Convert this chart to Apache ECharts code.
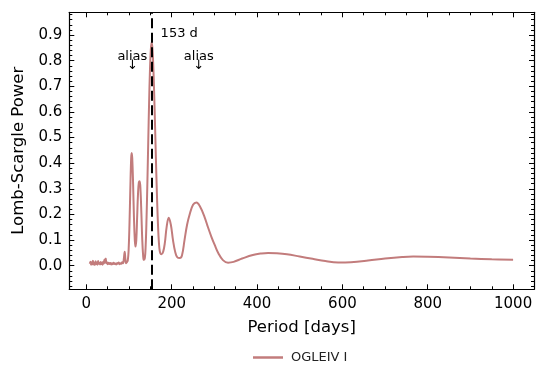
<!DOCTYPE html>
<html>
<head>
<meta charset="utf-8">
<script src="https://cdn.jsdelivr.net/npm/echarts@6/dist/echarts.min.js"></script>
<style>html,body{margin:0;padding:0;background:#fff;}#c{width:545px;height:381px;}</style>
</head>
<body>
<div id="c"></div>
<script>
// ---- data ----
const periods = [8, 9.5, 11, 12.5, 14, 15.5, 17, 18.5, 20, 21.5, 23, 24.5, 26, 27.5, 29, 30.5, 32, 33.5, 35, 36.5, 38, 39.5, 41, 42.5, 44, 45.5, 47, 48.5, 50, 52, 54, 56, 58, 60, 62, 64, 66, 68, 70, 72, 74, 76, 78, 80, 82, 84, 86, 88, 89.8, 91.5, 93, 95, 97,
  99, 101, 103, 105, 106.2, 107.5, 109.5, 111.5, 113.5, 115, 117, 119, 121, 123, 125, 127, 129, 131, 133, 134.5, 137, 139, 141, 143, 145, 147, 149, 151, 153, 155, 157, 159, 161, 163, 165, 167, 169, 171, 173, 176, 180, 184, 188, 193, 198, 203, 208, 213, 219, 224, 230, 236, 242, 250, 258, 266, 277, 285, 293, 301, 309, 320, 332, 345, 365, 390, 410, 426, 445, 470, 500, 530, 560, 590, 620, 660, 700, 740, 766, 800, 850, 900, 950, 1000];
const power = [0.008, 0.016, 0.004, 0.014, 0.006, 0.019, 0.005, 0.012, 0.003, 0.017, 0.007, 0.013, 0.004, 0.018, 0.008, 0.011, 0.005, 0.015, 0.007, 0.012, 0.004, 0.016, 0.009, 0.024, 0.012, 0.028, 0.010, 0.014, 0.006, 0.012, 0.007, 0.011, 0.005, 0.010, 0.006, 0.012, 0.007, 0.009, 0.005, 0.011, 0.008, 0.013, 0.006, 0.010, 0.008, 0.014, 0.010, 0.030, 0.055, 0.025, 0.010, 0.014, 0.020,
  0.06, 0.16, 0.30, 0.42, 0.44, 0.42, 0.32, 0.19, 0.10, 0.075, 0.10, 0.19, 0.28, 0.325, 0.33, 0.29, 0.20, 0.10, 0.04, 0.023, 0.03, 0.08, 0.185, 0.326, 0.484, 0.636, 0.762, 0.842, 0.872, 0.844, 0.771, 0.666, 0.544, 0.416, 0.298, 0.195, 0.118, 0.07, 0.05, 0.045, 0.055, 0.09, 0.15, 0.187, 0.16, 0.10, 0.055, 0.033, 0.03, 0.04, 0.10, 0.16, 0.20, 0.238, 0.247, 0.232, 0.19, 0.15, 0.113, 0.08, 0.05, 0.022, 0.012, 0.015, 0.028, 0.042, 0.048, 0.05, 0.049, 0.045, 0.036, 0.027, 0.018, 0.013, 0.014, 0.02, 0.028, 0.034, 0.036, 0.035, 0.032, 0.028, 0.025, 0.023];
const seriesName = 'OGLEIV I';
const bestPeriod = 153;
const bestLabel = '153 d';
const aliasPeriods = [107.8, 263.4];
const aliasLabel = 'alias';
const xTicks = [0, 200, 400, 600, 800, 1000];
const xMinor = [50, 100, 150, 250, 300, 350, 450, 500, 550, 650, 700, 750, 850, 900, 950];
const yTicks = [0, 0.1, 0.2, 0.3, 0.4, 0.5, 0.6, 0.7, 0.8, 0.9];
const yMinor = [-0.08, -0.06, -0.04, -0.02, 0.02, 0.04, 0.06, 0.08, 0.12, 0.14, 0.16, 0.18, 0.22, 0.24, 0.26, 0.28, 0.32, 0.34, 0.36, 0.38, 0.42, 0.44, 0.46, 0.48, 0.52, 0.54, 0.56, 0.58, 0.62, 0.64, 0.66, 0.68, 0.72, 0.74, 0.76, 0.78, 0.82, 0.84, 0.86, 0.88, 0.92, 0.94, 0.96, 0.98];

// ---- chart ----
const XMIN = -40, XMAX = 1049, YMIN = -0.092, YMAX = 0.989;
const FONT = 'DejaVu Sans';
const lineColor = '#c27c7c';
const chart = echarts.init(document.getElementById('c'), null, {renderer: 'canvas'});

function xAx(pos, major, showLine, label) {
  return {
    type: 'value', min: XMIN, max: XMAX, position: pos,
    axisLine: {show: showLine, onZero: false, lineStyle: {color: '#000', width: 1.2}},
    axisTick: {show: true, inside: true, length: major ? 5 : 3, lineStyle: {color: '#000', width: 1}, customValues: major ? xTicks : xMinor},
    axisLabel: label ? {show: true, customValues: xTicks, fontFamily: FONT, fontSize: 15, color: '#000', margin: 7, formatter: v => String(v)} : {show: false},
    splitLine: {show: false}
  };
}
function yAx(pos, major, showLine, label) {
  return {
    type: 'value', min: YMIN, max: YMAX, position: pos,
    axisLine: {show: showLine, onZero: false, lineStyle: {color: '#000', width: 1.2}},
    axisTick: {show: true, inside: true, length: major ? 5 : 3, lineStyle: {color: '#000', width: 1}, customValues: major ? yTicks : yMinor},
    axisLabel: label ? {show: true, customValues: yTicks, fontFamily: FONT, fontSize: 15, color: '#000', margin: 7, formatter: v => v.toFixed(1)} : {show: false},
    splitLine: {show: false}
  };
}

const xAxes = [xAx('bottom', true, true, true), xAx('bottom', false, false, false), xAx('top', true, true, false), xAx('top', false, false, false)];
Object.assign(xAxes[0], {name: 'Period [days]', nameLocation: 'middle', nameGap: 30, nameTextStyle: {fontFamily: FONT, fontSize: 16.5, color: '#000'}});
const yAxes = [yAx('left', true, true, true), yAx('left', false, false, false), yAx('right', true, true, false), yAx('right', false, false, false)];
Object.assign(yAxes[0], {name: 'Lomb-Scargle Power', nameLocation: 'middle', nameGap: 41, nameTextStyle: {fontFamily: FONT, fontSize: 16.5, color: '#000'}});

const lineData = periods.map((p, i) => [p, power[i]]);

chart.setOption({
  animation: false,
  backgroundColor: '#fff',
  grid: {left: 69.3, top: 12.3, right: 11, bottom: 91.7, containLabel: false},
  xAxis: xAxes,
  yAxis: yAxes,
  legend: {
    data: [{name: seriesName, icon: 'rect'}], left: 248, top: 346, itemWidth: 30, itemHeight: 2.5, itemGap: 10,
    textStyle: {fontFamily: FONT, fontSize: 13, color: '#222', padding: [0, 0, 0, 3]}
  },
  series: [
    {
      name: seriesName, type: 'line', data: lineData, smooth: 0.4, symbol: 'none',
      lineStyle: {color: lineColor, width: 2}, itemStyle: {color: lineColor},
      markLine: {
        silent: true, symbol: ['none', 'none'], label: {show: false},
        lineStyle: {color: '#000', width: 2, type: [10, 4.5]},
        data: [{xAxis: bestPeriod}]
      },
      z: 2
    }
  ]
});

// annotations placed in data coordinates
const annos = [[bestPeriod + 21, 0.906, bestLabel, 'left']]
  .concat(aliasPeriods.map(p => [p, 0.816, aliasLabel, 'center']))
  .concat(aliasPeriods.map(p => [p, 0.78, '↓', 'center']));
const graphics = annos.map(a => {
  const pt = chart.convertToPixel({xAxisIndex: 0, yAxisIndex: 0}, [a[0], a[1]]);
  return {
    type: 'text', x: pt[0], y: pt[1], z: 100, silent: true,
    style: {text: a[2], fill: '#000', font: '13px "DejaVu Sans"', align: a[3], verticalAlign: 'middle'}
  };
});
chart.setOption({graphic: graphics});
</script>
</body>
</html>
